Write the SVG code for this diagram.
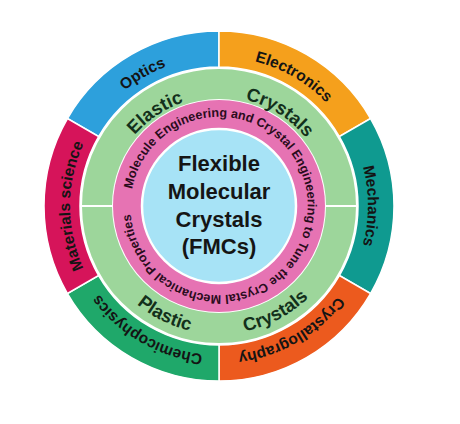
<svg xmlns="http://www.w3.org/2000/svg" width="460" height="424" viewBox="0 0 460 424">
<style>
.seg{stroke:#ffffff;stroke-width:1.5}
.outer{font-family:"Liberation Sans",Arial,sans-serif;font-weight:bold;font-size:15.5px;fill:#141414}
.ring{font-family:"Liberation Sans",Arial,sans-serif;font-weight:bold;font-size:18.5px;fill:#13301b}
.pinkt{font-family:"Liberation Sans",Arial,sans-serif;font-weight:bold;font-size:12.6px;fill:#2a0c1c}
.core{font-family:"Liberation Sans",Arial,sans-serif;font-weight:bold;font-size:22px;fill:#151515;text-anchor:middle}
</style>
<defs>
<path id="pOptics" d="M 79 155.04 A 149 149 0 0 1 244.87 59.26"/>
<path id="pElec" d="M 193.13 59.26 A 149 149 0 0 1 359 155.04"/>
<path id="pMech" d="M 333.14 110.23 A 149 149 0 0 1 333.14 301.77"/>
<path id="pCryst" d="M 359 256.96 A 149 149 0 0 1 193.13 352.74"/>
<path id="pChem" d="M 244.87 352.74 A 149 149 0 0 1 79 256.96"/>
<path id="pMat" d="M 104.86 301.77 A 149 149 0 0 1 104.86 110.23"/>
<path id="pTop" d="M 113.68 170.46 A 112 112 0 0 1 324.32 170.46"/>
<path id="pBot" d="M 98.72 249.78 A 128 128 0 0 0 339.28 249.78"/>
<path id="pPink" d="M 132.13 189.11 A 88.5 88.5 0 1 1 305.87 222.89 A 88.5 88.5 0 1 1 132.13 189.11"/>
</defs>
<rect width="460" height="424" fill="#ffffff"/>

<g id="optics">
<path class="seg" fill="#2da0dc" d="M 67.45 118.5 A 175 175 0 0 1 219 31 L 219 67 A 139 139 0 0 0 98.62 136.5 Z"/>
<text class="outer"><textPath href="#pOptics" startOffset="50%" text-anchor="middle">Optics</textPath></text>
</g>
<g id="electronics">
<path class="seg" fill="#f5a01c" d="M 219 31 A 175 175 0 0 1 370.55 118.5 L 339.38 136.5 A 139 139 0 0 0 219 67 Z"/>
<text class="outer"><textPath href="#pElec" startOffset="50%" text-anchor="middle">Electronics</textPath></text>
</g>
<g id="mechanics">
<path class="seg" fill="#0f9a90" d="M 370.55 118.5 A 175 175 0 0 1 370.55 293.5 L 339.38 275.5 A 139 139 0 0 0 339.38 136.5 Z"/>
<text class="outer"><textPath href="#pMech" startOffset="50%" text-anchor="middle">Mechanics</textPath></text>
</g>
<g id="crystallography">
<path class="seg" fill="#ec5a1e" d="M 370.55 293.5 A 175 175 0 0 1 219 381 L 219 345 A 139 139 0 0 0 339.38 275.5 Z"/>
<text class="outer"><textPath href="#pCryst" startOffset="50%" text-anchor="middle">Crystallography</textPath></text>
</g>
<g id="chemicophysics">
<path class="seg" fill="#1fa86a" d="M 219 381 A 175 175 0 0 1 67.45 293.5 L 98.62 275.5 A 139 139 0 0 0 219 345 Z"/>
<text class="outer"><textPath href="#pChem" startOffset="50%" text-anchor="middle">Chemicophysics</textPath></text>
</g>
<g id="materials-science">
<path class="seg" fill="#d6145a" d="M 67.45 293.5 A 175 175 0 0 1 67.45 118.5 L 98.62 136.5 A 139 139 0 0 0 98.62 275.5 Z"/>
<text class="outer"><textPath href="#pMat" startOffset="50%" text-anchor="middle">Materials science</textPath></text>
</g>

<g id="elastic-crystals">
<path fill="#9dd69b" stroke="#ffffff" stroke-width="2" d="M 81 206 A 138 138 0 0 1 357 206 L 325 206 A 106 106 0 0 0 113 206 Z"/>
<text class="ring"><textPath href="#pTop" startOffset="26%" text-anchor="middle">Elastic</textPath></text>
<text class="ring"><textPath href="#pTop" startOffset="73%" text-anchor="middle">Crystals</textPath></text>
</g>
<g id="plastic-crystals">
<path fill="#9dd69b" stroke="#ffffff" stroke-width="2" d="M 81 206 A 138 138 0 0 0 357 206 L 325 206 A 106 106 0 0 1 113 206 Z"/>
<text class="ring"><textPath href="#pBot" startOffset="31%" text-anchor="middle">Plastic</textPath></text>
<text class="ring"><textPath href="#pBot" startOffset="70%" text-anchor="middle">Crystals</textPath></text>
</g>

<g id="engineering-ring">
<circle cx="219" cy="206" r="106" fill="#e673b3"/>
<text class="pinkt"><textPath href="#pPink">Molecule Engineering and Crystal Engineering to Tune the Crystal Mechanical Properties</textPath></text>
</g>

<g id="fmcs">
<circle cx="219" cy="206" r="77" fill="#a7e3f6" stroke="#ffffff" stroke-width="2.5"/>
<text class="core" x="219" y="171">Flexible</text>
<text class="core" x="219" y="199">Molecular</text>
<text class="core" x="219" y="227">Crystals</text>
<text class="core" x="219" y="254">(FMCs)</text>
</g>

<g id="connectors"></g>
</svg>
